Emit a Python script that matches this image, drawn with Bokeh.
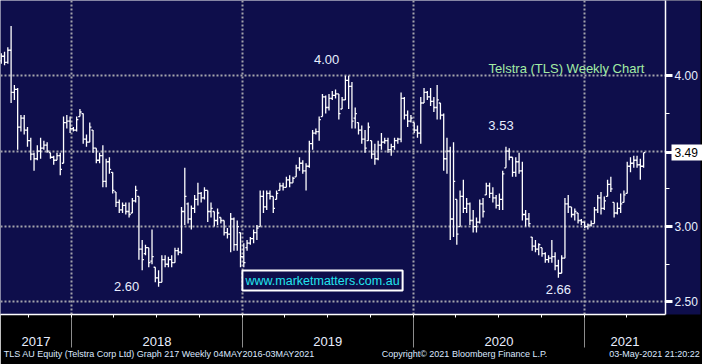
import pandas as pd
from datetime import datetime, timedelta
from bokeh.plotting import figure
from bokeh.models import (ColumnDataSource, Range1d, FixedTicker, Label, LinearAxis,
                          CustomJSTickFormatter)
from bokeh.embed import file_html
from bokeh.resources import INLINE

# ---------------- data ----------------
first_week = "2017-08-04"

high = [4.15, 4.16, 4.19, 4.33, 3.94, 3.92, 3.74, 3.74, 3.66, 3.59,
        3.49, 3.54, 3.59, 3.57, 3.56, 3.49, 3.47, 3.49, 3.49, 3.73,
        3.74, 3.73, 3.66, 3.73, 3.78, 3.75, 3.61, 3.69, 3.64, 3.52,
        3.49, 3.54, 3.45, 3.46, 3.36, 3.23, 3.18, 3.16, 3.16, 3.16,
        3.19, 3.27, 3.20, 2.91, 2.88, 2.86, 2.98, 2.73, 2.71, 2.81,
        2.81, 2.80, 2.81, 2.86, 2.86, 3.13, 3.39, 3.16, 3.14, 3.21,
        3.29, 3.23, 3.26, 3.24, 3.16, 3.10, 3.12, 3.06, 3.04, 2.99,
        3.09, 3.06, 3.04, 2.96, 2.89, 2.91, 2.93, 2.98, 3.01, 3.24,
        3.24, 3.24, 3.24, 3.20, 3.24, 3.29, 3.29, 3.33, 3.34, 3.33,
        3.41, 3.46, 3.44, 3.42, 3.57, 3.64, 3.65, 3.73, 3.88, 3.87,
        3.88, 3.90, 3.91, 3.88, 3.86, 4.00, 4.00, 3.96, 3.79, 3.69,
        3.67, 3.64, 3.69, 3.57, 3.55, 3.57, 3.62, 3.59, 3.59, 3.55,
        3.59, 3.59, 3.89, 3.86, 3.77, 3.74, 3.69, 3.67, 3.86, 3.92,
        3.90, 3.92, 3.86, 3.94, 3.82, 3.75, 3.59, 3.53, 3.56, 3.18,
        3.24, 3.31, 3.19, 3.16, 3.11, 3.06, 3.18, 3.19, 3.29, 3.29,
        3.26, 3.21, 3.22, 3.37, 3.53, 3.52, 3.46, 3.46, 3.49, 3.43,
        3.11, 3.09, 2.93, 2.91, 2.89, 2.86, 2.83, 2.81, 2.91, 2.83,
        2.78, 2.81, 3.19, 3.21, 3.13, 3.12, 3.09, 3.05, 3.03, 3.02,
        3.04, 3.13, 3.21, 3.23, 3.20, 3.31, 3.33, 3.16, 3.16, 3.22,
        3.24, 3.43, 3.46, 3.47, 3.47, 3.45, 3.49]

low = [4.08, 4.07, 4.08, 3.82, 3.84, 3.51, 3.63, 3.61, 3.53, 3.44,
       3.37, 3.44, 3.45, 3.51, 3.49, 3.45, 3.41, 3.44, 3.34, 3.42,
       3.65, 3.62, 3.63, 3.63, 3.73, 3.55, 3.53, 3.56, 3.49, 3.42,
       3.42, 3.26, 3.26, 3.35, 3.22, 3.13, 3.09, 3.09, 3.08, 3.06,
       3.09, 3.16, 2.78, 2.71, 2.81, 2.73, 2.75, 2.63, 2.60, 2.63,
       2.73, 2.73, 2.73, 2.76, 2.81, 2.82, 3.01, 3.02, 2.98, 3.09,
       3.14, 3.16, 3.18, 3.03, 3.06, 3.00, 3.01, 3.02, 2.94, 2.92,
       2.83, 2.84, 2.84, 2.73, 2.73, 2.84, 2.88, 2.89, 2.91, 3.00,
       3.09, 3.11, 3.18, 3.09, 3.18, 3.24, 3.24, 3.26, 3.26, 3.29,
       3.33, 3.37, 3.35, 3.24, 3.39, 3.51, 3.61, 3.57, 3.73, 3.75,
       3.77, 3.84, 3.85, 3.71, 3.78, 3.84, 3.78, 3.65, 3.65, 3.61,
       3.55, 3.49, 3.57, 3.45, 3.41, 3.44, 3.51, 3.55, 3.49, 3.47,
       3.51, 3.55, 3.56, 3.71, 3.66, 3.69, 3.62, 3.59, 3.55, 3.82,
       3.84, 3.80, 3.76, 3.71, 3.71, 3.37, 3.35, 2.91, 2.93, 2.88,
       3.00, 3.09, 3.09, 3.01, 2.96, 2.96, 3.02, 3.06, 3.21, 3.19,
       3.16, 3.12, 3.11, 3.11, 3.39, 3.44, 3.33, 3.33, 3.35, 3.04,
       3.00, 3.00, 2.84, 2.83, 2.81, 2.80, 2.76, 2.76, 2.76, 2.71,
       2.66, 2.69, 2.79, 3.09, 3.06, 3.04, 3.02, 3.01, 2.99, 2.98,
       3.00, 3.02, 3.09, 3.08, 3.11, 3.20, 3.23, 3.06, 3.08, 3.09,
       3.16, 3.22, 3.36, 3.39, 3.39, 3.31, 3.39]

open_ = [4.10, 4.13, 4.09, 4.17, 3.89, 3.91, 3.66, 3.72, 3.64, 3.57,
         3.48, 3.45, 3.50, 3.52, 3.54, 3.49, 3.46, 3.44, 3.47, 3.42,
         3.69, 3.70, 3.65, 3.64, 3.73, 3.75, 3.58, 3.56, 3.64, 3.52,
         3.44, 3.47, 3.30, 3.43, 3.36, 3.23, 3.16, 3.11, 3.14, 3.10,
         3.09, 3.17, 3.20, 2.85, 2.82, 2.86, 2.77, 2.73, 2.66, 2.63,
         2.78, 2.75, 2.78, 2.76, 2.84, 2.83, 3.10, 3.15, 3.05, 3.12,
         3.18, 3.22, 3.19, 3.24, 3.10, 3.10, 3.04, 3.06, 3.04, 2.96,
         2.95, 3.05, 2.88, 2.96, 2.80, 2.86, 2.89, 2.92, 2.96, 3.00,
         3.20, 3.13, 3.22, 3.20, 3.18, 3.24, 3.27, 3.26, 3.31, 3.29,
         3.33, 3.39, 3.42, 3.37, 3.40, 3.55, 3.62, 3.63, 3.73, 3.86,
         3.79, 3.85, 3.87, 3.88, 3.78, 3.84, 3.97, 3.93, 3.72, 3.69,
         3.64, 3.58, 3.57, 3.57, 3.48, 3.45, 3.54, 3.56, 3.57, 3.51,
         3.53, 3.57, 3.58, 3.85, 3.74, 3.70, 3.69, 3.64, 3.62, 3.82,
         3.89, 3.86, 3.83, 3.79, 3.82, 3.74, 3.45, 3.50, 3.05, 3.18,
         3.00, 3.20, 3.12, 3.15, 3.04, 3.00, 3.03, 3.15, 3.21, 3.27,
         3.22, 3.19, 3.14, 3.18, 3.39, 3.50, 3.46, 3.36, 3.43, 3.37,
         3.08, 3.05, 2.93, 2.87, 2.85, 2.86, 2.82, 2.78, 2.79, 2.80,
         2.74, 2.69, 2.79, 3.15, 3.13, 3.08, 3.09, 3.04, 3.03, 3.00,
         3.01, 3.02, 3.11, 3.19, 3.12, 3.20, 3.28, 3.16, 3.09, 3.12,
         3.16, 3.22, 3.40, 3.42, 3.44, 3.41, 3.40]

close = [4.13, 4.09, 4.17, 3.89, 3.91, 3.66, 3.72, 3.64, 3.57, 3.48,
         3.45, 3.50, 3.52, 3.54, 3.50, 3.46, 3.44, 3.47, 3.38, 3.69,
         3.70, 3.65, 3.64, 3.71, 3.76, 3.58, 3.56, 3.66, 3.52, 3.44,
         3.47, 3.30, 3.43, 3.38, 3.24, 3.16, 3.11, 3.14, 3.10, 3.08,
         3.17, 3.24, 2.85, 2.78, 2.86, 2.76, 2.80, 2.66, 2.63, 2.78,
         2.75, 2.78, 2.76, 2.84, 2.83, 3.10, 3.20, 3.05, 3.12, 3.18,
         3.22, 3.19, 3.24, 3.10, 3.12, 3.04, 3.09, 3.04, 2.96, 2.95,
         3.05, 2.88, 3.00, 2.80, 2.76, 2.89, 2.92, 2.96, 2.99, 3.20,
         3.13, 3.22, 3.20, 3.12, 3.22, 3.27, 3.26, 3.31, 3.29, 3.32,
         3.39, 3.42, 3.37, 3.40, 3.55, 3.62, 3.63, 3.71, 3.86, 3.79,
         3.85, 3.87, 3.88, 3.75, 3.84, 3.97, 3.93, 3.70, 3.75, 3.64,
         3.58, 3.52, 3.66, 3.48, 3.45, 3.54, 3.56, 3.57, 3.51, 3.53,
         3.57, 3.58, 3.85, 3.74, 3.70, 3.72, 3.64, 3.62, 3.82, 3.89,
         3.86, 3.83, 3.79, 3.84, 3.74, 3.45, 3.50, 3.05, 3.30, 2.95,
         3.20, 3.12, 3.15, 3.04, 3.00, 3.03, 3.15, 3.10, 3.27, 3.22,
         3.19, 3.14, 3.18, 3.35, 3.50, 3.46, 3.36, 3.43, 3.37, 3.08,
         3.05, 3.02, 2.87, 2.85, 2.88, 2.82, 2.78, 2.79, 2.80, 2.74,
         2.69, 2.79, 3.15, 3.13, 3.08, 3.10, 3.04, 3.03, 3.00, 3.01,
         3.02, 3.11, 3.19, 3.12, 3.17, 3.28, 3.25, 3.09, 3.12, 3.15,
         3.21, 3.40, 3.42, 3.44, 3.41, 3.40, 3.49]

year_labels = ["2017", "2018", "2019", "2020", "2021"]
y_label_ticks = [2.5, 3.0, 4.0]
y_minor_ticks = [2.75, 3.25, 3.75]
y_grid_levels = [2.5, 3.0, 3.5, 4.0, 4.5]
callout_high_values = [4.00, 3.53]
callout_low_values = [2.60, 2.66]

title_text = "Telstra (TLS) Weekly Chart"
site_text = "www.marketmatters.com.au"
footer_texts = ["TLS AU Equity (Telstra Corp Ltd) Graph 217  Weekly 04MAY2016-03MAY2021",
                "Copyright\u00a9 2021 Bloomberg Finance L.P.",
                "03-May-2021 21:20:22"]

# ---------------- layout / style ----------------
W, H = 702, 364
FW, FH = 665, 314
PPD = 171 / 365.25            # pixels per day
Y_TOP, PPU = 4.5, 150.7        # price at top, pixels per 1.00
NAVY = "#0e0e4b"
FONT = "Liberation Sans"
TXT = "#e8eeff"

x0 = datetime(2018, 1, 1) - timedelta(days=71 / PPD)
x1 = x0 + timedelta(days=FW / PPD)
y_bot = Y_TOP - FH / PPU


def px_date(px):
    return x0 + timedelta(days=px / PPD)


def py_val(py):
    return Y_TOP - py / PPU


def ms(d):
    return pd.Timestamp(d).value / 1e6


LOOKUP = ("let b = 0; for (let i = 1; i < t.length; i++) "
          "{ if (Math.abs(t[i] - tick) < Math.abs(t[b] - tick)) b = i; } return l[b];")

p = figure(width=W, height=H, x_axis_type="datetime", y_axis_location="right",
           x_range=Range1d(x0, x1), y_range=Range1d(y_bot, Y_TOP),
           output_backend="svg", toolbar_location=None, title_location=None,
           min_border_left=0, min_border_top=0, min_border_right=W - FW,
           min_border_bottom=H - FH,
           background_fill_color=NAVY, border_fill_color="black",
           outline_line_color=None)

# grid
year_bounds = [ms(datetime(y, 1, 1)) for y in range(2018, 2022)]
quarters = [ms(datetime(y, m, 1)) for y in range(2017, 2022) for m in (1, 4, 7, 10)
            if x0 <= datetime(y, m, 1) <= x1]
p.xgrid.ticker = FixedTicker(ticks=year_bounds)
p.ygrid.ticker = FixedTicker(ticks=y_grid_levels)
for g in (p.xgrid[0], p.ygrid[0]):
    g.grid_line_color = "#a4a4ac"
    g.grid_line_dash = "2 2"
    g.grid_line_width = 2

# OHLC bars
dates = pd.date_range(first_week, periods=len(close), freq="7D")
half = pd.Timedelta(days=3.6)
src = ColumnDataSource(dict(x=dates, xl=dates - half, xr=dates + half,
                            o=open_, h=high, l=low, c=close))
p.segment("x", "l", "x", "h", source=src, line_color="white", line_width=1.3)
p.segment("xl", "o", "x", "o", source=src, line_color="white", line_width=1.3)
p.segment("x", "c", "xr", "c", source=src, line_color="white", line_width=1.3)

# x axis 1: year separators (long grey) + quarter ticks
xa = p.xaxis[0]
xa.ticker = FixedTicker(ticks=year_bounds, minor_ticks=quarters)
xa.formatter = CustomJSTickFormatter(code="return '';")
xa.major_tick_out = 33
xa.major_tick_in = 0
xa.major_tick_line_color = "#8c8c8c"
xa.minor_tick_out = 3
xa.minor_tick_in = 0
xa.minor_tick_line_color = "white"
xa.axis_line_color = "white"
xa.axis_line_width = 1.5
xa.major_label_standoff = 0
xa.major_label_text_font_size = "1px"

# x axis 2: year names centred on the visible part of each year
mids = []
for lab in year_labels:
    yr = int(lab)
    a = max(x0, datetime(yr, 1, 1))
    b = min(x1, datetime(yr + 1, 1, 1))
    mids.append(ms(a + (b - a) / 2))
xb = LinearAxis(ticker=FixedTicker(ticks=mids, minor_ticks=[]),
                formatter=CustomJSTickFormatter(args=dict(t=mids, l=year_labels), code=LOOKUP))
xb.major_tick_out = 0
xb.major_tick_in = 0
xb.major_tick_line_color = None
xb.minor_tick_line_color = None
xb.axis_line_color = None
xb.major_label_standoff = -11
xb.major_label_text_font = FONT
xb.major_label_text_font_size = "13px"
xb.major_label_text_color = TXT
p.add_layout(xb, "below")

# x axis 3: footer line
fpos = [ms(px_date(160)), ms(px_date(464)), ms(px_date(654))]
xc = LinearAxis(ticker=FixedTicker(ticks=fpos, minor_ticks=[]),
                formatter=CustomJSTickFormatter(args=dict(t=fpos, l=footer_texts), code=LOOKUP))
xc.major_tick_out = 0
xc.major_tick_in = 0
xc.major_tick_line_color = None
xc.minor_tick_line_color = None
xc.axis_line_color = None
xc.major_label_standoff = 0
xc.major_label_text_font = FONT
xc.major_label_text_font_size = "9px"
xc.major_label_text_color = "#dce8ff"
p.add_layout(xc, "below")

# y axis on the right
last = close[-1]
ya = p.yaxis[0]
ya.ticker = FixedTicker(ticks=y_label_ticks + [last], minor_ticks=y_minor_ticks)
ya.formatter = CustomJSTickFormatter(
    args=dict(last=last),
    code="return Math.abs(tick - last) < 1e-6 ? '' : tick.toFixed(2);")
ya.major_tick_out = 7
ya.major_tick_in = 0
ya.major_tick_line_width = 3
ya.major_tick_line_color = "white"
ya.minor_tick_out = 4
ya.minor_tick_in = 0
ya.minor_tick_line_color = "white"
ya.axis_line_color = "white"
ya.axis_line_width = 1.5
ya.major_label_standoff = 2
ya.major_label_text_font = FONT
ya.major_label_text_font_size = "12px"
ya.major_label_text_color = TXT
try:
    ya.background_fill_color = NAVY
except Exception:
    pass

# last price flag: a second right axis carrying only the last close;
# its (wide, white) tick forms the flag box behind the black label
yb = LinearAxis(ticker=FixedTicker(ticks=[last], minor_ticks=[]),
                formatter=CustomJSTickFormatter(code="return tick.toFixed(2);"))
yb.major_tick_out = 4
yb.major_tick_in = 29
yb.major_tick_line_width = 16
yb.major_tick_line_color = "white"
yb.minor_tick_line_color = None
yb.axis_line_color = None
yb.major_label_standoff = -30
yb.major_label_text_font = FONT
yb.major_label_text_font_size = "12px"
yb.major_label_text_color = "black"
p.add_layout(yb, "right")

# callouts at the turning points
offsets_hi = [(-22, 16), (-5, 21)]
for v, (dx, dy) in zip(callout_high_values, offsets_hi):
    i = len(high) - 1 - high[::-1].index(v)
    p.add_layout(Label(x=dates[i], y=high[i], text=f"{v:.2f}", text_align="center",
                       text_baseline="middle", x_offset=dx, y_offset=dy,
                       text_font=FONT, text_font_size="13px", text_color=TXT))
offsets_lo = [(-32, 0), (0, -12)]
for v, (dx, dy) in zip(callout_low_values, offsets_lo):
    i = low.index(v)
    p.add_layout(Label(x=dates[i], y=low[i], text=f"{v:.2f}", text_align="center",
                       text_baseline="middle", x_offset=dx, y_offset=dy,
                       text_font=FONT, text_font_size="13px", text_color=TXT))

# chart title and site box
p.add_layout(Label(x=px_date(566), y=py_val(68), text=title_text, text_align="center",
                   text_baseline="middle", text_font=FONT, text_font_size="13px",
                   text_color="#a4eca4"))
p.add_layout(Label(x=px_date(322), y=py_val(280), text=site_text, text_align="center",
                   text_baseline="middle", text_font=FONT, text_font_size="12.5px",
                   text_color="#22e4ee", background_fill_color=NAVY,
                   border_line_color="white", border_line_width=2, padding=3))

open("out.html", "w").write(file_html(p, INLINE))
